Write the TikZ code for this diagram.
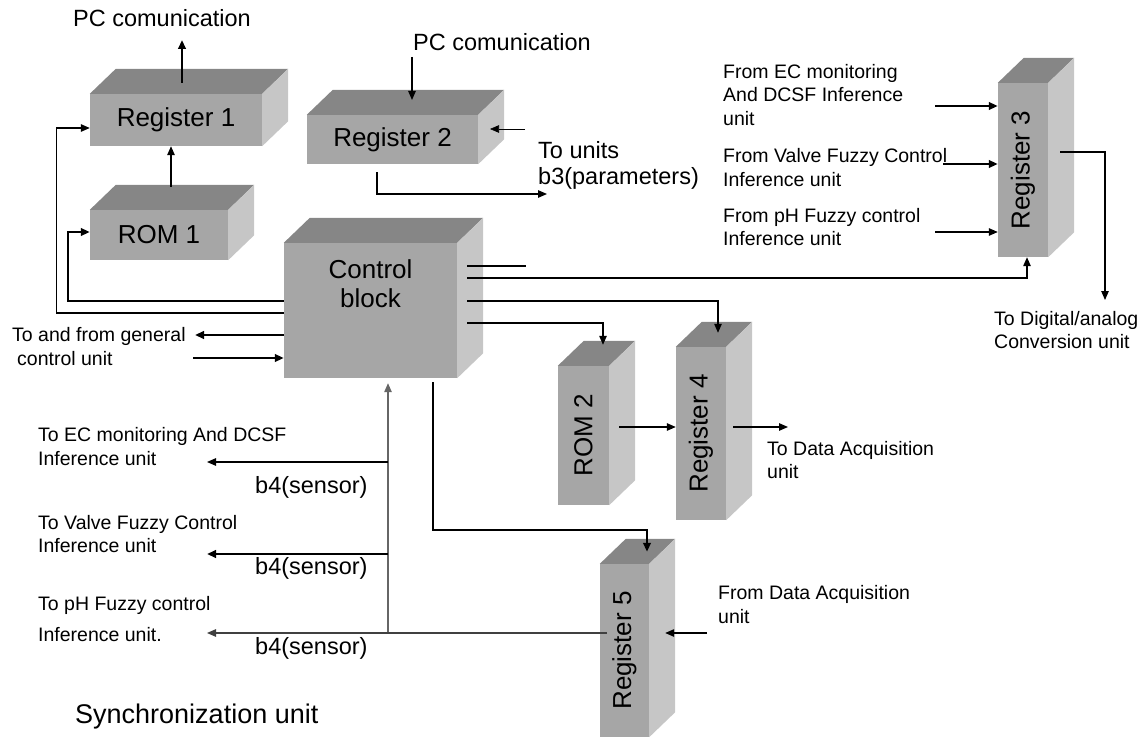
\documentclass[tikz,border=0pt]{standalone}
\usepackage{fontspec}
\setmainfont{Liberation Sans}
\usetikzlibrary{calc,positioning,arrows.meta}
\definecolor{frontgray}{RGB}{166,166,166}
\definecolor{topgray}{RGB}{134,134,134}
\definecolor{sidegray}{RGB}{198,198,198}
\tikzset{
cube/.style={rectangle, fill=frontgray, inner sep=0pt, font=\fontsize{26}{29}\selectfont},
lbl/.style={inner sep=0pt, align=left, anchor=west, font=\fontsize{19.5}{23.5}\selectfont},
biglbl/.style={inner sep=0pt, align=left, anchor=west, font=\fontsize{23.5}{26}\selectfont},
wire/.style={line width=1.2pt},
bus/.style={line width=2.4pt},
}
\newcommand\cubefaces[1]{%
  \fill[topgray] (#1.north west) -- ++(26,-25) -- ([shift={(26,-25)}]#1.north east) -- (#1.north east) -- cycle;
  \fill[sidegray] (#1.north east) -- ++(26,-25) -- ([shift={(26,-25)}]#1.south east) -- (#1.south east) -- cycle;
}

\begin{document}
\begin{tikzpicture}[x=1pt,y=-1pt,>={Triangle[length=9pt,width=7.5pt]}]
\useasboundingbox (0,0) rectangle (1146,738);

% boxes
\node[cube, minimum width=172pt, minimum height=52pt] (reg1) at (176,120) {Register 1};
\node[cube, minimum width=138pt, minimum height=50pt] (rom1) at (159,235) {ROM 1};
\node[cube, minimum width=171pt, minimum height=49pt] (reg2) at (392.5,139.5) {Register 2};
\node[cube, minimum width=173pt, minimum height=135pt] (ctrl) at (370.5,310.5) {};
\node[cube, minimum width=50pt, minimum height=174pt] (reg3) at (1023,170) {};
\node[cube, minimum width=51pt, minimum height=139pt] (rom2) at (583.5,435.5) {};
\node[cube, minimum width=50pt, minimum height=173pt] (reg4) at (701,433.5) {};
\node[cube, minimum width=49pt, minimum height=173pt] (reg5) at (624.5,650.5) {};
\foreach \b in {reg1,rom1,reg2,ctrl,reg3,rom2,reg4,reg5} {\cubefaces{\b}}
\node[cube, fill=none, align=center, anchor=north, below=17pt of ctrl.north] (ctrltxt) {Control\\block};
\node[cube, fill=none, rotate=90] at (reg3) {Register 3};
\node[cube, fill=none, rotate=90] at (rom2) {ROM 2};
\node[cube, fill=none, rotate=90] at (reg4) {Register 4};
\node[cube, fill=none, rotate=90] at (reg5) {Register 5};

% texts
\node[biglbl] (pc1) at (73,18) {PC comunication};
\node[biglbl] (pc2) at (413,42) {PC comunication};
\node[biglbl] (units) at (538,165) {To units\\b3(parameters)};
\node[lbl] (ecfrom) at (723,95) {From EC monitoring\\And DCSF Inference\\unit};
\node[lbl] (valvefrom) at (723,167.5) {From Valve Fuzzy Control\\Inference unit};
\node[lbl] (phfrom) at (723,227) {From pH Fuzzy control\\Inference unit};
\node[lbl] (dac) at (994,330) {To Digital/analog\\Conversion unit};
\node[lbl] (gen) at (12,346.5) {To and from general\\\hspace*{5pt}control unit};
\node[lbl] (daq) at (767,460) {To Data Acquisition\\unit};
\node[lbl] (ecto) at (38,446.5) {To EC monitoring And DCSF\\Inference unit};
\node[lbl] (valveto) at (38,534) {To Valve Fuzzy Control\\Inference unit};
\node[lbl] (phto) at (38,619) {To pH Fuzzy control\\[8pt]Inference unit.};
\node[biglbl] (b4a) at (255,487) {b4(sensor)};
\node[biglbl] (b4b) at (255,568) {b4(sensor)};
\node[biglbl] (b4c) at (255,648) {b4(sensor)};
\node[lbl] (daqfrom) at (718,604.5) {From Data Acquisition\\unit};
\node[biglbl, font=\fontsize{27}{30}\selectfont] (sync) at (75,717) {Synchronization unit};

% free ends
\coordinate (pc1end) at (182,40);
\coordinate (pc2start) at (412,57);
\coordinate (unitsend) at (547,194);
\coordinate (ecin) at (935,106);
\coordinate (valvein) at (943,164);
\coordinate (phin) at (935,232);
\coordinate (dacend) at (1105,300);
\coordinate (genout) at (195,335);
\coordinate (genin) at (193,358);
\coordinate (daqout) at (788,427);
\coordinate (ecout) at (207,462);
\coordinate (valveout) at (207,554);
\coordinate (phout) at (207,633);
\coordinate (daqin) at (707,633);
\coordinate (r2side) at (525,129);
\coordinate (rom1up) at ([shift={(12,-23)}]rom1.north);
\coordinate (rom2out) at ([shift={(10,-8.5)}]rom2.east);
\coordinate (busfoot) at ([xshift=17.5pt]ctrl.south |- phout);

% left part
\draw[bus,->] ([yshift=11pt]pc1end |- reg1.north) -- (pc1end);
\draw[wire,->] (rom1up) -- (rom1up |- reg1.south);
\draw[wire,->] ([shift={(0,2.5)}]ctrl.west) -- ++(-227,0) |- ([shift={(0,8)}]reg1.west);
\draw[bus,->] ([shift={(0,-9.5)}]ctrl.west) -- ++(-216,0) |- ([shift={(0,-3)}]rom1.west);
\draw[bus,->] (ctrl.west |- genout) -- (genout);
\draw[bus,->] (genin) -- (ctrl.west |- genin);

% register 2
\draw[wire,->] (pc2start) -- ++(0,43);
\draw[line width=0.6pt,->] (r2side) -- ++(-35,0);
\draw[wire,->] ([shift={(-15.5,8)}]reg2.south) |- (unitsend);

% control block outputs
\draw[bus] ([shift={(10,-44.5)}]ctrl.east) -- ++(59,0);
\draw[wire,->] ([shift={(10,-32.5)}]ctrl.east) -| ([xshift=4pt]reg3.south);
\draw[wire,->] ([shift={(10,-9.5)}]ctrl.east) -| ([shift={(17,-14)}]reg4.north);
\draw[wire,->] ([shift={(10,12.5)}]ctrl.east) -| ([shift={(19.5,-21)}]rom2.north);
\draw[wire,->] (rom2out) -- (rom2out -| reg4.west);
\draw[wire,->] ([xshift=7pt]reg4.east |- daqout) -- (daqout);

% register 3
\draw[bus,->] (ecin) -- (reg3.west |- ecin);
\draw[bus,->] (valvein) -- (reg3.west |- valvein);
\draw[wire,->] (phin) -- (reg3.west |- phin);
\draw[wire,->] ([shift={(12,-18)}]reg3.east) -| (dacend);

% sensor lines
\draw[wire,black!60,->] (busfoot) -- ([shift={(17.5,5)}]ctrl.south);
\draw[wire,black!75,->] ([xshift=-17.5pt]reg5.center |- phout) -- (phout);
\draw[wire,->] (busfoot |- ecout) -- (ecout);
\draw[bus,->] (busfoot |- valveout) -- (valveout);
\draw[wire,->] (daqin) -- ([xshift=16pt]reg5.east |- daqin);
\draw[bus,->] ([shift={(62.5,4)}]ctrl.south) |- ([shift={(22.5,-34)}]reg5.north) -- ([shift={(22.5,-12)}]reg5.north);
\end{tikzpicture}
\end{document}
